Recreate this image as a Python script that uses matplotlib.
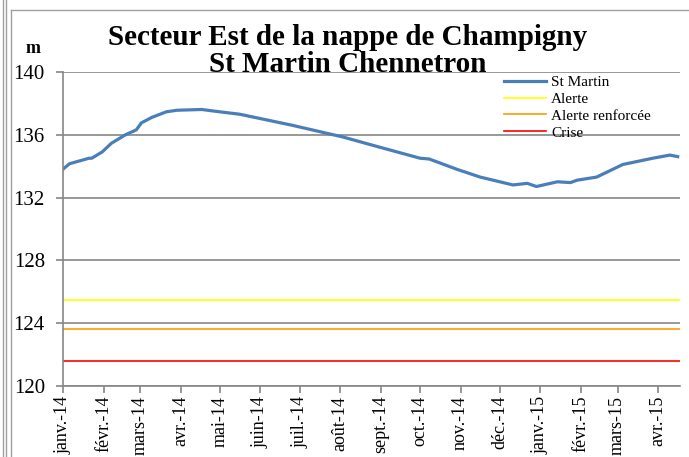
# Niveau de la nappe de Champigny - St Martin Chennetron
import datetime as dt
import matplotlib
matplotlib.use('Agg')
import matplotlib.pyplot as plt
from matplotlib.lines import Line2D

# jours depuis le 1er janvier 2014 et niveaux (m)
jours = [0, 5, 20, 22, 30, 37, 48, 56, 60, 68, 79, 87, 106, 120, 135, 155,
         175, 201, 214, 240, 273, 280, 301, 319, 344, 355, 362, 378, 388,
         393, 408, 428, 451, 464, 470]
niveaux = [133.8, 134.15, 134.5, 134.5, 134.9, 135.45, 136.0, 136.3, 136.75,
           137.1, 137.45, 137.55, 137.6, 137.45, 137.3, 136.95, 136.6, 136.1,
           135.85, 135.25, 134.5, 134.45, 133.8, 133.3, 132.8, 132.9, 132.7,
           133.0, 132.95, 133.1, 133.3, 134.1, 134.5, 134.7, 134.6]

seuils = {'Alerte': 125.5, 'Alerte renforcée': 123.65, 'Crise': 121.6}
couleurs_seuils = {'Alerte': '#ffff00', 'Alerte renforcée': '#ff9900',
                   'Crise': '#ff0000'}

mois = ['janv.-14', 'févr.-14', 'mars-14', 'avr.-14', 'mai-14', 'juin-14',
        'juil.-14', 'août-14', 'sept.-14', 'oct.-14', 'nov.-14', 'déc.-14',
        'janv.-15', 'févr.-15', 'mars-15', 'avr.-15']

debut = dt.date(2014, 1, 1)
dates = [debut + dt.timedelta(days=j) for j in jours]
ticks = [dt.date(2014 + i // 12, i % 12 + 1, 1) for i in range(len(mois))]

plt.rcParams['font.family'] = ['Liberation Serif', 'DejaVu Serif']

fig = plt.figure(figsize=(6.89, 4.57), dpi=100)
ax = fig.add_axes([0.0914, 0.155, 0.896, 0.688])

gris = '#868686'
ax.plot(dates, niveaux, color='#4a7ebb', lw=2.3, label='St Martin')
for nom, val in seuils.items():
    ax.axhline(val, color=couleurs_seuils[nom], lw=1.2, label=nom)

ax.set_ylim(120, 140)
ax.set_yticks([120, 124, 128, 132, 136, 140])
ax.set_xlim(debut, dt.date(2015, 4, 18))
ax.set_xticks(ticks)
ax.set_xticklabels(mois, rotation=90, fontsize=13)
ax.tick_params(axis='y', labelsize=15, length=5, color=gris, width=1.2, pad=8)
ax.tick_params(axis='x', length=5, color=gris, width=1.2, pad=2)
ax.grid(axis='y', color=gris, lw=1.2)
ax.set_axisbelow(True)
for s in ['top', 'right']:
    ax.spines[s].set_visible(False)
for s in ['left', 'bottom']:
    ax.spines[s].set_color(gris)
    ax.spines[s].set_linewidth(1.2)

ax.legend(loc='upper left', bbox_to_anchor=(0.702, 1.012), frameon=False,
          fontsize=11, handlelength=2.75, labelspacing=0.2, borderpad=0,
          handletextpad=0.33)

fig.text(0.505, 0.918, 'Secteur Est de la nappe de Champigny',
         ha='center', va='center', fontsize=21, fontweight='bold')
fig.text(0.505, 0.858, 'St Martin Chennetron',
         ha='center', va='center', fontsize=21, fontweight='bold')
fig.text(0.048, 0.893, 'm', ha='center', va='center', fontsize=13,
         fontweight='bold')

# cadre
for x in [0.004, 0.009]:
    fig.add_artist(Line2D([x, x], [0, 1], color='#a0a0a0', lw=1))
fig.add_artist(Line2D([0.016, 0.016], [0, 0.978], color='#a0a0a0', lw=1))
fig.add_artist(Line2D([0.016, 1], [0.978, 0.978], color='#a0a0a0', lw=1))

fig.savefig('out.png', dpi=100)
